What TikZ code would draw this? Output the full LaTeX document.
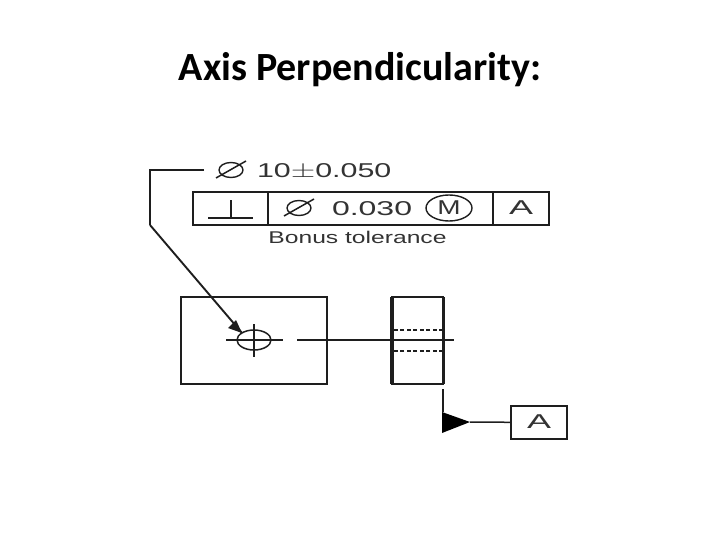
\documentclass[tikz,border=0pt]{standalone}
\usepackage{fontspec}
\usepackage{graphicx}
\setmainfont{Liberation Sans}
\newfontfamily\titlefont{Carlito}
\usetikzlibrary{arrows, positioning, shapes.geometric}
\definecolor{inkgray}{HTML}{1E1E1E}
\definecolor{textgray}{HTML}{333333}
\newcommand{\wide}[2]{\scalebox{#1}[1]{#2}}
\begin{document}
\begin{tikzpicture}[x=1pt,y=-1pt,inner sep=0pt,outer sep=0pt,on grid,line join=miter]
    \tikzstyle{cell}=[shape=rectangle,draw=inkgray,line width=2.2pt,minimum height=33pt]
    \tikzstyle{lbl}=[text=textgray,font=\fontsize{20}{22}\selectfont]
    \tikzstyle{part}=[draw=inkgray,line width=2.2pt]
    \tikzstyle{thin}=[draw=inkgray,line width=1.5pt]
    \tikzstyle{dia}=[shape=ellipse,draw=inkgray,line width=1.4pt,minimum width=24pt,minimum height=15pt]
    \useasboundingbox (0,0) rectangle (720,540);

    \node[font=\titlefont\bfseries\fontsize{40}{46}\selectfont] (T1) at (360,70) {Axis Perpendicularity:};

    % size callout
    \node[dia] (S1) at (231,170) {};
    \coordinate (S1a) at (216,178);
    \coordinate (S1b) at (246,161);
    \node[lbl,anchor=west] (S2) at (257,171) {\wide{1.52}{10$\pm$0.050}};
    \coordinate (L1) at (204,170);
    \coordinate (L2) at (150,170);
    \coordinate (L3) at (150,225);
    \coordinate (L4) at (242,333);

    % feature control frame
    \node[cell,minimum width=75pt] (F1) at (230.5,208.5) {};
    \node[cell,minimum width=225pt] (F2) at (380.5,208.5) {};
    \node[cell,minimum width=56pt] (F3) at (521,208.5) {};
    \coordinate (P1) at (208,218);
    \coordinate (P2) at (253,218);
    \coordinate (P3) at (231,218);
    \coordinate (P4) at (231,200);
    \node[dia] (D1) at (299,208) {};
    \coordinate (D1a) at (284,216);
    \coordinate (D1b) at (314,199);
    \node[lbl,anchor=west] (V1) at (332,209) {\wide{1.6}{0.030}};
    \node[shape=ellipse,draw=inkgray,line width=1.4pt,lbl,minimum width=46pt,minimum height=26pt] (M1) at (449,208) {\wide{1.4}{M}};
    \node[lbl] (A1) at (521,208) {\wide{1.8}{A}};
    \node[text=textgray,font=\fontsize{17}{19}\selectfont] (B1) at (357.5,237) {\wide{1.45}{Bonus tolerance}};

    % front view
    \node[part,shape=rectangle,minimum width=146pt,minimum height=87pt] (V2) at (254,340.5) {};
    \node[shape=ellipse,thin,minimum width=34pt,minimum height=20pt] (H1) at (254,340) {};
    \coordinate (H2) at (254,324);
    \coordinate (H3) at (254,357);
    \coordinate (H4) at (226,340);
    \coordinate (H5) at (283,340);
    \coordinate (H6) at (297,340);
    \coordinate (H7) at (454,340);

    % side view
    \node[part,shape=rectangle,minimum width=51pt,minimum height=87pt] (V3) at (417.5,340.5) {};
    \coordinate (E1) at (443,330);
    \coordinate (E2) at (392,330);
    \coordinate (E3) at (443,351);
    \coordinate (E4) at (392,351);

    % datum
    \node[cell,minimum width=56pt] (A2) at (539,422.5) {};
    \node[lbl] (A3) at (539,422) {\wide{1.8}{A}};
    \coordinate (G1) at (443,389);
    \coordinate (G2) at (442,433);
    \coordinate (G3) at (442,412);
    \coordinate (G4) at (470,422);

    \draw[thin] (S1a) -- (S1b);
    \draw[thin] (D1a) -- (D1b);
    \draw[thin] (L1) -- (L2) -- (L3);
    \draw[part,line width=1.9pt] (L3) -- (L4);
    \fill[inkgray] (L4) -- ++(-14,-5) -- ++(8,-8) -- cycle;
    \draw[part] (P1) -- (P2);
    \draw[thin] (P3) -- (P4);
    \draw[thin] (H4) -- (H5);
    \draw[thin] (H6) -- (H7);
    \draw[part] (H2) -- (H3);
    \draw[part,line width=1.4pt,dash pattern=on 4pt off 2.5pt] (E1) -- (E2);
    \draw[part,line width=1.4pt,dash pattern=on 4pt off 2.5pt] (E3) -- (E4);
    \draw[draw=inkgray,line width=3.6pt] (V3.north west) -- (V3.south west);
    \draw[draw=inkgray,line width=3pt] (V3.north east) -- (V3.south east);
    \draw[draw=inkgray,line width=2.6pt] (G1) -- (443,412);
    \fill[black] (G3) -- (G4) -- (G2) -- cycle;
    \draw[thin] (G4) -- (A2);
\end{tikzpicture}
\end{document}
